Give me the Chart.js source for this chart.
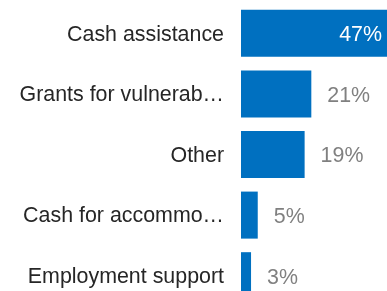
<!DOCTYPE html>
<html>
<head>
<meta charset="utf-8">
<script src="https://cdn.jsdelivr.net/npm/chart.js@4"></script>
<style>
  html, body { margin: 0; padding: 0; background: #fff; overflow: hidden; }
  canvas { display: block; }
</style>
</head>
<body>
<canvas id="myBarChart" width="387" height="306"></canvas>
<script>
const categories = ['Cash assistance', 'Grants for vulnerab…', 'Other', 'Cash for accommo…', 'Employment support'];
const shares = [47, 21, 19, 5, 3]; // percent
const xMax = 43.6; // largest bar runs past the visible edge

// value labels: white inside a bar that hits the edge, grey after the others
const valueLabels = {
    id: 'valueLabels',
    afterDatasetsDraw(chart) {
        const ctx = chart.ctx;
        const area = chart.chartArea;
        const meta = chart.getDatasetMeta(0);
        ctx.save();
        ctx.font = '21.4px "Liberation Sans", Arial, sans-serif';
        ctx.textBaseline = 'middle';
        meta.data.forEach((bar, i) => {
            const txt = shares[i] + '%';
            if (bar.x >= area.right) {
                ctx.fillStyle = '#ffffff';
                ctx.textAlign = 'right';
                ctx.fillText(txt, area.right - 5, bar.y + 2);
            } else {
                ctx.fillStyle = '#808080';
                ctx.textAlign = 'left';
                ctx.fillText(txt, bar.x + 16, bar.y + 2);
            }
        });
        ctx.restore();
    }
};

const ctx = document.getElementById('myBarChart').getContext('2d');
const myBarChart = new Chart(ctx, {
    type: 'bar',
    data: {
        labels: categories,
        datasets: [{
            data: shares,
            backgroundColor: '#0070C0',
            borderWidth: 0,
            barPercentage: 0.776,
            categoryPercentage: 1
        }]
    },
    options: {
        indexAxis: 'y',
        responsive: false,
        animation: false,
        layout: { padding: { top: 3, right: 0, bottom: 0, left: 0 } },
        plugins: { legend: { display: false }, tooltip: { enabled: false } },
        scales: {
            x: { display: false, min: 0, max: xMax },
            y: {
                grid: { display: false, drawTicks: false },
                border: { display: false },
                ticks: {
                    color: '#262626',
                    padding: 17,
                    labelOffset: 1.5,
                    font: { size: 21.4, family: '"Liberation Sans", Arial, sans-serif' }
                },
                afterFit(scale) {
                    scale.width = 241;
                    scale.paddingTop = 0;
                    scale.paddingBottom = 0;
                }
            }
        }
    },
    plugins: [valueLabels]
});
</script>
</body>
</html>
